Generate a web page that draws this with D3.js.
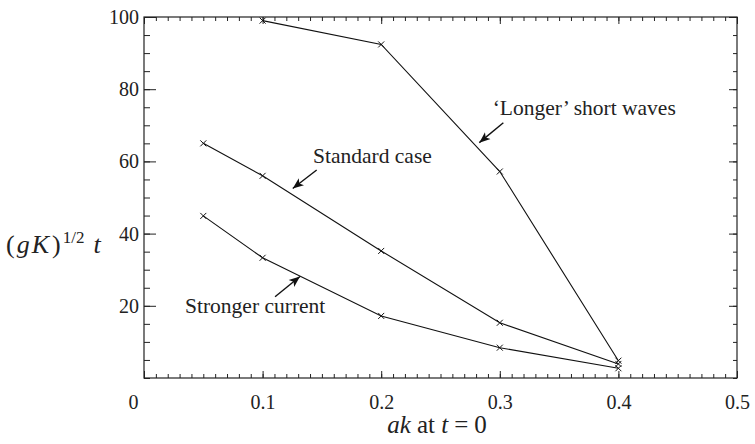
<!DOCTYPE html>
<html>
<head>
<meta charset="utf-8">
<script src="https://cdn.jsdelivr.net/npm/d3@7"></script>
<style>
  body { margin: 0; background: #fff; }
</style>
</head>
<body>
<script>
// data
var akLonger = [0.1, 0.2, 0.3, 0.4];
var tLonger = [99, 92.4, 57.2, 4.8];
var akStandard = [0.05, 0.1, 0.2, 0.3, 0.4];
var tStandard = [65, 56, 35.2, 15.3, 3.9];
var akStronger = [0.05, 0.1, 0.2, 0.3, 0.4];
var tStronger = [44.9, 33.3, 17.2, 8.4, 2.7];

var xTicks = [0, 0.1, 0.2, 0.3, 0.4, 0.5];
var yTicks = [20, 40, 60, 80, 100];

// annotation labels: text anchor and arrow (tail -> head) in data units
var labelText = ["\u2018Longer\u2019 short waves", "Standard case", "Stronger current"];
var labelPos = [[0.294, 72.9], [0.1425, 59.6], [0.0346, 18.0]];
var arrowFrom = [[0.303, 70.7], [0.1456, 57.6], [0.1105, 22.5]];
var arrowTo = [[0.2827, 65.2], [0.1254, 52.5], [0.1315, 28.1]];

var width = 755, height = 444;
var margin = {left: 144, right: 18, top: 17, bottom: 66};
var serif = "'Liberation Serif', 'Times New Roman', serif";

var svg = d3.select("body")
            .append("svg")
            .attr("width", width)
            .attr("height", height)
            .style("font-family", serif);

var x = d3.scaleLinear()
          .domain([0, 0.5])
          .range([margin.left, width - margin.right]);

var y = d3.scaleLinear()
          .domain([0, 100])
          .range([height - margin.bottom, margin.top]);

var xMinor = d3.range(0, 51).map(d => d / 100);
var yMinor = d3.range(0, 101, 5);

function plainAxis(g) {
    g.attr("font-family", null);
    g.select(".domain").remove();
    g.selectAll("line").attr("stroke", "#222");
}

// minor ticks, all pointing inward
svg.append("g")
   .attr("transform", "translate(0," + y(0) + ")")
   .call(d3.axisBottom(x).tickValues(xMinor).tickSize(-4).tickFormat(""))
   .call(plainAxis);
svg.append("g")
   .attr("transform", "translate(0," + y(100) + ")")
   .call(d3.axisTop(x).tickValues(xMinor).tickSize(-4).tickFormat(""))
   .call(plainAxis);
svg.append("g")
   .attr("transform", "translate(" + x(0) + ",0)")
   .call(d3.axisLeft(y).tickValues(yMinor).tickSize(-6).tickFormat(""))
   .call(plainAxis);
svg.append("g")
   .attr("transform", "translate(" + x(0.5) + ",0)")
   .call(d3.axisRight(y).tickValues(yMinor).tickSize(-4).tickFormat(""))
   .call(plainAxis);

// major ticks
var xAxis = svg.append("g")
   .attr("transform", "translate(0," + y(0) + ")")
   .call(d3.axisBottom(x).tickValues(xTicks).tickSize(-7).tickPadding(17)
           .tickFormat(d => d === 0 ? "0" : d3.format(".1f")(d)))
   .call(plainAxis);
xAxis.selectAll("text")
     .attr("font-size", 20)
     .attr("fill", "#222")
     .style("font-family", serif)
     .attr("dx", d => d === 0 ? -11 : 0);

svg.append("g")
   .attr("transform", "translate(0," + y(100) + ")")
   .call(d3.axisTop(x).tickValues(xTicks).tickSize(-7).tickFormat(""))
   .call(plainAxis);

var yAxis = svg.append("g")
   .attr("transform", "translate(" + x(0) + ",0)")
   .call(d3.axisLeft(y).tickValues(yTicks).tickSize(-12).tickPadding(-7))
   .call(plainAxis);
yAxis.selectAll("text")
     .attr("font-size", 20)
     .attr("fill", "#222")
     .style("font-family", serif)
     .attr("x", -5);

svg.append("g")
   .attr("transform", "translate(" + x(0.5) + ",0)")
   .call(d3.axisRight(y).tickValues(yTicks).tickSize(-8).tickFormat(""))
   .call(plainAxis);

// frame
svg.append("rect")
   .attr("x", x(0)).attr("y", y(100))
   .attr("width", x(0.5) - x(0)).attr("height", y(0) - y(100))
   .attr("fill", "none")
   .attr("stroke", "#222")
   .attr("stroke-width", 1.2);

// series
var series = [
    d3.zip(akLonger, tLonger),
    d3.zip(akStandard, tStandard),
    d3.zip(akStronger, tStronger)
];

var line = d3.line().x(d => x(d[0])).y(d => y(d[1]));

svg.selectAll(".series")
   .data(series).enter()
   .append("path")
   .attr("class", "series")
   .attr("d", line)
   .attr("fill", "none")
   .attr("stroke", "#111")
   .attr("stroke-width", 1.1);

var pts = series.flat();
svg.selectAll(".mark")
   .data(pts).enter()
   .append("path")
   .attr("class", "mark")
   .attr("transform", d => "translate(" + x(d[0]) + "," + y(d[1]) + ")")
   .attr("d", "M-3,-3L3,3M-3,3L3,-3")
   .attr("stroke", "#111")
   .attr("stroke-width", 1);

// annotations
svg.append("defs").append("marker")
   .attr("id", "head")
   .attr("viewBox", "0 0 10 10")
   .attr("refX", 10).attr("refY", 5)
   .attr("markerWidth", 11).attr("markerHeight", 11)
   .attr("markerUnits", "userSpaceOnUse")
   .attr("orient", "auto")
   .append("path")
   .attr("d", "M0,1L10,5L0,9L2.5,5Z")
   .attr("fill", "#111");

svg.selectAll(".arrow")
   .data(d3.range(labelText.length)).enter()
   .append("line")
   .attr("class", "arrow")
   .attr("x1", i => x(arrowFrom[i][0])).attr("y1", i => y(arrowFrom[i][1]))
   .attr("x2", i => x(arrowTo[i][0])).attr("y2", i => y(arrowTo[i][1]))
   .attr("stroke", "#111")
   .attr("stroke-width", 1.4)
   .attr("marker-end", "url(#head)");

svg.selectAll(".label")
   .data(labelText).enter()
   .append("text")
   .attr("class", "label")
   .attr("x", (d, i) => x(labelPos[i][0]))
   .attr("y", (d, i) => y(labelPos[i][1]))
   .attr("font-size", 21.5)
   .attr("fill", "#222")
   .style("font-family", serif)
   .text(d => d);

// axis titles
var xt = svg.append("text")
   .attr("x", 437).attr("y", 433)
   .attr("text-anchor", "middle")
   .attr("font-size", 25)
   .attr("fill", "#222")
   .style("font-family", serif);
xt.append("tspan").attr("font-style", "italic").text("ak");
xt.append("tspan").text(" at ");
xt.append("tspan").attr("font-style", "italic").text("t");
xt.append("tspan").attr("dx", 6).text("=");
xt.append("tspan").attr("dx", 6).text("0");

var yt = svg.append("text")
   .attr("x", 6).attr("y", 253)
   .attr("font-size", 26)
   .attr("fill", "#222")
   .style("font-family", serif);
yt.append("tspan").text("(");
yt.append("tspan").attr("font-style", "italic").attr("dx", 2).text("g");
yt.append("tspan").attr("font-style", "italic").attr("dx", 2).text("K");
yt.append("tspan").attr("dx", 3).text(")");
yt.append("tspan").attr("font-size", 17).attr("dx", 2).attr("dy", -10).text("1/2");
yt.append("tspan").attr("font-style", "italic").attr("dy", 10).attr("dx", 9).text("t");
</script>
</body>
</html>
